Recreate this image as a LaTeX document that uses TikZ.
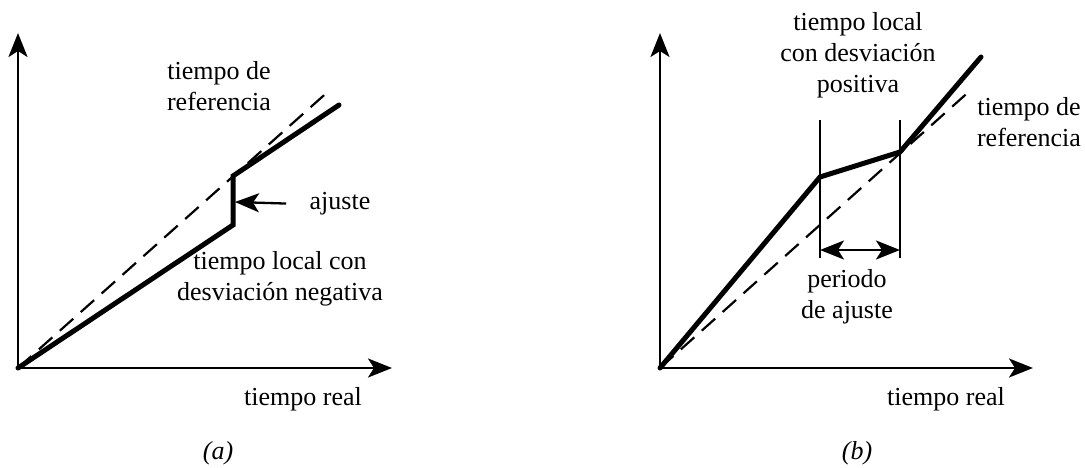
\documentclass[tikz,border=0pt]{standalone}
\usepackage{fontspec}
\setmainfont{Liberation Serif}
\usetikzlibrary{arrows.meta}

\begin{document}
\begin{tikzpicture}[x=1pt,y=-1pt,font=\fontsize{26}{31}\selectfont,
  punta/.tip={Stealth[length=24pt,width=19pt,inset=6pt]},
  eje/.style={line width=2.3pt,-punta},
  local/.style={line width=5pt,line cap=round,line join=miter},
  patron/.style={line width=2.2pt,dash pattern=on 18pt off 10pt},
  flecha/.style={line width=2.3pt,-punta},
  doble/.style={line width=2.3pt,punta-punta},
  limite/.style={line width=2pt}]
  \useasboundingbox (0,0) rectangle (1085,468);
  % (a)
  \coordinate (oa) at (18,368); \coordinate (ya) at (18,33); \coordinate (xa) at (392,368);
  \coordinate (la1) at (233,225); \coordinate (la2) at (233,176); \coordinate (la3) at (339,105);
  \coordinate (ra) at (331,89); \coordinate (ja) at (235,202);
  \draw[eje] (oa)--(ya); \draw[eje] (oa)--(xa);
  \draw[patron] (oa)--(ra);
  \draw[local] (oa)--(la1)--(la2)--(la3);
  \node[align=center] (refa) at (219,86) {tiempo de\\referencia};
  \node[anchor=base] (aj) at (340,210) {ajuste};
  \draw[flecha,shorten <=20pt] (aj.west)--(ja);
  \node[align=center] (loca) at (280,279) {tiempo local con\\desviación negativa};
  \node[anchor=base] (ta) at (303,405) {tiempo real};
  \node (capa) at (218,453) {\itshape (a)};
  % (b)
  \coordinate (ob) at (660,368); \coordinate (yb) at (660,33); \coordinate (xb) at (1033,368);
  \coordinate (lb1) at (820,177); \coordinate (lb2) at (900,152); \coordinate (lb3) at (981,57);
  \coordinate (rb) at (973,88);
  \coordinate (v1t) at (820,120); \coordinate (v1b) at (820,258);
  \coordinate (v2t) at (900,120); \coordinate (v2b) at (900,258);
  \coordinate (p1) at (820,250); \coordinate (p2) at (900,250);
  \draw[eje] (ob)--(yb); \draw[eje] (ob)--(xb);
  \draw[patron] (ob)--(rb);
  \draw[local] (ob)--(lb1)--(lb2)--(lb3);
  \draw[limite] (v1t)--(v1b); \draw[limite] (v2t)--(v2b);
  \draw[doble] (p1)--(p2);
  \node[align=center] (locb) at (858,55) {tiempo local\\con desviación\\positiva};
  \node[align=center] (refb) at (1029,122) {tiempo de\\referencia};
  \node[align=center] (per) at (847,297) {periodo\\de ajuste};
  \node[anchor=base] (tb) at (946,405) {tiempo real};
  \node (capb) at (857,453) {\itshape (b)};
\end{tikzpicture}
\end{document}
